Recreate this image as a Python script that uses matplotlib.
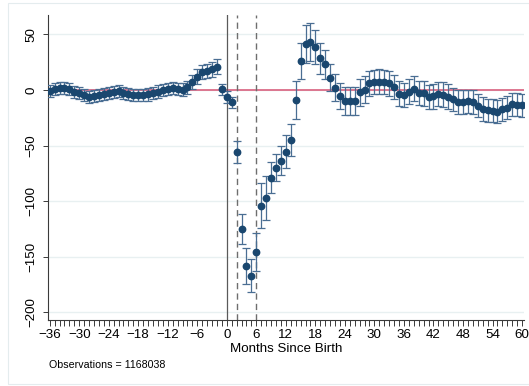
import matplotlib
matplotlib.use("Agg")
import matplotlib.pyplot as plt
from matplotlib.patches import Rectangle
from matplotlib.ticker import MultipleLocator

plt.rcParams['font.family'] = ['Liberation Sans', 'DejaVu Sans']

# Event-time coefficients (months relative to birth) and 95% CI half-widths
months = list(range(-36, 61))
estimates = [
    # -36 .. -1
    -0.6, 0.6, 1.5, 2.1, 0.6, -1.5, -3.0, -4.5, -6.0, -5.4, -4.5, -3.6,
    -3.0, -1.8, -1.2, -2.4, -3.6, -4.5, -4.6, -4.6, -4.0, -2.8, -1.4, -0.2,
    1.2, 2.0, 1.2, 0.4, 2.5, 7.0, 12.0, 16.0, 17.0, 18.5, 21.0, 0.5,
    # 0 .. 60
    -6.0, -11.0, -56.0, -125.0, -158.0, -167.0, -146.0, -104.0, -97.0,
    -79.0, -70.0, -63.5, -55.5, -45.0, -9.0, 26.0, 41.0, 43.0, 38.5,
    28.5, 23.0, 11.0, 2.0, -5.5, -9.6, -9.6, -9.6, -2.2, 0.3, 6.0,
    7.2, 7.5, 7.2, 6.0, 2.6, -3.3, -4.3, -1.5, 1.3, -2.7, -3.0, -6.2,
    -5.7, -3.4, -4.2, -6.0, -8.4, -10.8, -10.8, -10.2, -10.9, -14.1,
    -17.2, -18.2, -18.6, -19.5, -17.4, -15.9, -12.8, -13.1, -13.8,
]
ci_half = [
    # -36 .. -1
    5.5, 5.5, 5.5, 5.5, 5.5, 5.5, 5.5, 5.5, 5.5, 5.5, 5.5, 5.5,
    5.5, 5.5, 5.5, 5.5, 5.5, 5.5, 5.5, 5.5, 5.5, 5.5, 5.5, 5.5,
    5.5, 5.5, 5.5, 5.5, 6.0, 6.5, 6.5, 6.5, 6.5, 6.5, 7.0, 5.0,
    # 0 .. 60
    5.5, 5.0, 10.0, 13.5, 16.0, 15.0, 17.0, 20.0, 20.0, 14.0, 12.0,
    13.0, 15.0, 14.0, 17.0, 16.0, 17.0, 17.0, 15.0, 14.0, 13.0, 12.0,
    12.0, 12.0, 12.5, 12.5, 12.5, 12.0, 12.0, 11.0, 11.0, 11.0, 11.0,
    11.0, 11.0, 11.0, 11.0, 11.0, 11.0, 11.0, 11.0, 11.0, 11.0, 11.0,
    11.0, 11.0, 10.5, 10.5, 10.5, 10.5, 10.5, 10.5, 10.5, 10.5, 10.5,
    10.5, 10.5, 10.5, 10.5, 10.5, 10.5,
]
xtick_values = list(range(-36, 61, 6))
ytick_values = [-200, -150, -100, -50, 0, 50]
event_lines_solid = [0]
event_lines_dashed = [2, 6]
n_obs = 1168038

navy = '#1a476f'
bar_col = '#4a6e93'

fig = plt.figure(figsize=(5.29, 3.86), dpi=100)
ax = fig.add_axes([47.7 / 529, 1 - 320 / 386, (524 - 47.7) / 529, (320 - 15) / 386])

ax.set_xlim(-36.4, 60.4)
ax.set_ylim(-206.8, 67.4)

# horizontal grid
for yv in ytick_values:
    ax.axhline(yv, color='#e8f0f1', lw=1.0, zorder=0)

# zero reference line
ax.axhline(0, color='#d9617e', lw=1.2, zorder=1)

# event markers
for xv in event_lines_solid:
    ax.axvline(xv, color='#5a5a5a', lw=0.9, zorder=1)
for xv in event_lines_dashed:
    ax.axvline(xv, color='#6e6e6e', lw=1.0, ls=(0, (4.5, 3)), zorder=1)

ax.errorbar(months, estimates, yerr=ci_half, fmt='none', ecolor=bar_col,
            elinewidth=0.9, capsize=2.6, capthick=0.9, zorder=3)
ax.plot(months, estimates, 'o', color=navy, ms=4.6, mec=navy, zorder=4)

for side in ('top', 'right'):
    ax.spines[side].set_visible(False)
for side in ('left', 'bottom'):
    ax.spines[side].set_color('#3a3a3a')
    ax.spines[side].set_linewidth(0.8)

ax.set_xticks(xtick_values)
ax.set_xticklabels([f"{v}".replace('-', '\u2212') for v in xtick_values])
ax.xaxis.set_minor_locator(MultipleLocator(1))
ax.set_yticks(ytick_values)
ax.set_yticklabels([f"{v}".replace('-', '\u2212') for v in ytick_values],
                   rotation=90, va='center')

ax.tick_params(axis='x', which='both', length=4, width=0.7, color='#3a3a3a',
               labelsize=9.6, pad=2.5)
ax.tick_params(axis='y', which='major', length=3.5, width=0.7, color='#3a3a3a',
               labelsize=9.6, pad=4)

ax.set_xlabel('Months Since Birth', fontsize=9.6, labelpad=1.5)

fig.text(49 / 529, 1 - 365 / 386, f'Observations = {n_obs}', fontsize=7.7,
         va='center', ha='left')

fig.add_artist(Rectangle((8 / 529, 1 - 384 / 386), 530 / 529, 381 / 386,
                         transform=fig.transFigure, fill=False,
                         edgecolor='#e4ecee', lw=0.8))

fig.savefig('out.png', dpi=100)
